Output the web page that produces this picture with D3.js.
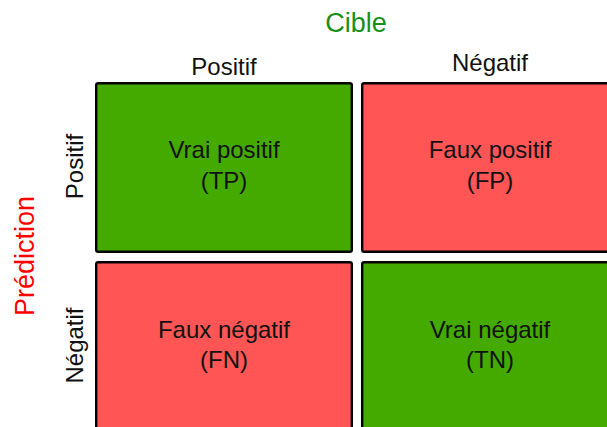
<!DOCTYPE html>
<html>
<head>
<meta charset="utf-8">
<script src="https://cdn.jsdelivr.net/npm/d3@7"></script>
<style>
html,body{margin:0;padding:0;background:#fff;}
svg{display:block;font-family:"Liberation Sans",Arial,sans-serif;}
</style>
</head>
<body>
<svg id="chart" width="607" height="427"></svg>
<script>
const targetCols = ["Positif", "Négatif"];
const predRows = ["Positif", "Négatif"];
const cellLine1 = [["Vrai positif", "Faux positif"], ["Faux négatif", "Vrai négatif"]];
const cellLine2 = [["(TP)", "(FP)"], ["(FN)", "(TN)"]];
const cellCorrect = [[true, false], [false, true]];
const titleTop = "Cible";
const titleLeft = "Prédiction";

const svg = d3.select("#chart");
const x = d3.scaleBand().domain(targetCols).range([95, 619]).paddingInner(0.03);
const y = d3.scaleBand().domain(predRows).range([82, 432]).paddingInner(0.0447);
const color = d3.scaleOrdinal().domain([true, false]).range(["#44aa00", "#ff5555"]);

const cells = [];
predRows.forEach((r, i) => targetCols.forEach((c, j) => cells.push({
  r, c, l1: cellLine1[i][j], l2: cellLine2[i][j], ok: cellCorrect[i][j]
})));

const g = svg.append("g");
const cg = g.selectAll("g.cell").data(cells).join("g").attr("class", "cell");
cg.append("rect")
  .attr("x", d => x(d.c) + 1.2)
  .attr("y", d => y(d.r) + 1.2)
  .attr("width", x.bandwidth() - 2.4)
  .attr("height", y.bandwidth() - 2.4)
  .attr("rx", 2)
  .attr("fill", d => color(d.ok))
  .attr("stroke", "#000")
  .attr("stroke-width", 2.4);
cg.append("text")
  .attr("x", d => x(d.c) + x.bandwidth() / 2)
  .attr("y", d => y(d.r) + y.bandwidth() / 2 - 9)
  .attr("text-anchor", "middle")
  .attr("font-size", 24)
  .attr("fill", "#111")
  .text(d => d.l1);
cg.append("text")
  .attr("x", d => x(d.c) + x.bandwidth() / 2)
  .attr("y", d => y(d.r) + y.bandwidth() / 2 + 21.5)
  .attr("text-anchor", "middle")
  .attr("font-size", 24)
  .attr("fill", "#111")
  .text(d => d.l2);

// column headers
svg.selectAll("text.colh").data(targetCols).join("text")
  .attr("class", "colh")
  .attr("x", d => x(d) + x.bandwidth() / 2)
  .attr("y", (d, i) => i === 0 ? 75 : 71)
  .attr("text-anchor", "middle")
  .attr("font-size", 24)
  .attr("fill", "#111")
  .text(d => d);

// row headers
svg.selectAll("text.rowh").data(predRows).join("text")
  .attr("class", "rowh")
  .attr("transform", d => `translate(83,${y(d) + y.bandwidth() / 2 - 1}) rotate(-90)`)
  .attr("text-anchor", "middle")
  .attr("font-size", 24)
  .attr("fill", "#111")
  .text(d => d);

// titles
svg.append("text")
  .attr("x", 356).attr("y", 32)
  .attr("text-anchor", "middle")
  .attr("font-size", 27)
  .attr("fill", "#178f17")
  .text(titleTop);
svg.append("text")
  .attr("transform", "translate(34,256) rotate(-90)")
  .attr("text-anchor", "middle")
  .attr("font-size", 27)
  .attr("fill", "#ff0000")
  .text(titleLeft);
</script>
</body>
</html>
